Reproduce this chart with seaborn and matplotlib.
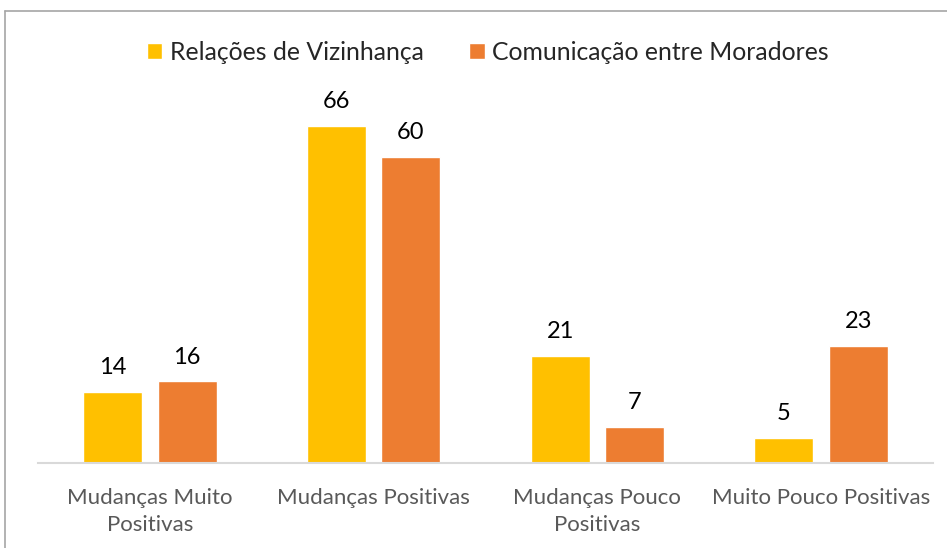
import matplotlib
matplotlib.use("Agg")
import matplotlib.pyplot as plt
from matplotlib.lines import Line2D
import seaborn as sns
import pandas as pd

categories = ["Mudanças Muito\nPositivas", "Mudanças Positivas", "Mudanças Pouco\nPositivas", "Muito Pouco Positivas"]
series_names = ["Relações de Vizinhança", "Comunicação entre Moradores"]
vizinhanca = [14, 66, 21, 5]
comunicacao = [16, 60, 7, 23]
colors = ["#FFC000", "#ED7D31"]

df = pd.DataFrame({
    "cat": categories * 2,
    "serie": [series_names[0]] * 4 + [series_names[1]] * 4,
    "valor": vizinhanca + comunicacao,
})

sns.set_theme(style="white")
plt.rcParams["font.family"] = ["Lato", "DejaVu Sans"]

fig = plt.figure(figsize=(9.47, 5.48), dpi=100)
ax = fig.add_axes([0.0401, 0.155, 0.945, 0.652])
sns.barplot(data=df, x="cat", y="valor", hue="serie", palette=colors,
            width=0.665, gap=0.206, ax=ax, legend=True, saturation=1)

ax.set_ylim(0, 70)
ax.set_xlim(-0.5, 3.5)
ax.set_xlabel("")
ax.set_ylabel("")
ax.set_yticks([])
for s in ["top", "right", "left"]:
    ax.spines[s].set_visible(False)
ax.spines["bottom"].set_color("#D9D9D9")
ax.spines["bottom"].set_linewidth(1.5)
ax.tick_params(axis="x", length=0, pad=18, labelsize=16, labelcolor="#595959")
for lbl in ax.get_xticklabels():
    lbl.set_linespacing(1.45)

for cont in ax.containers:
    ax.bar_label(cont, fontsize=17, color="black", padding=10, clip_on=False)

handles, labels = ax.get_legend_handles_labels()
ax.legend(handles, labels, loc="center", bbox_to_anchor=(488 / 947, 1 - 52 / 548),
          bbox_transform=fig.transFigure, ncol=2, frameon=False, fontsize=17.8,
          handlelength=0.62, handleheight=0.62, handletextpad=0.3, columnspacing=1.85)

fig.add_artist(Line2D([5 / 947, 1.0], [1 - 11 / 548, 1 - 11 / 548], transform=fig.transFigure,
                      color="#A6A6A6", linewidth=1.2))
fig.add_artist(Line2D([5 / 947, 5 / 947], [0, 1 - 11 / 548], transform=fig.transFigure,
                      color="#A6A6A6", linewidth=1.2))

fig.savefig("out.png", dpi=100)
